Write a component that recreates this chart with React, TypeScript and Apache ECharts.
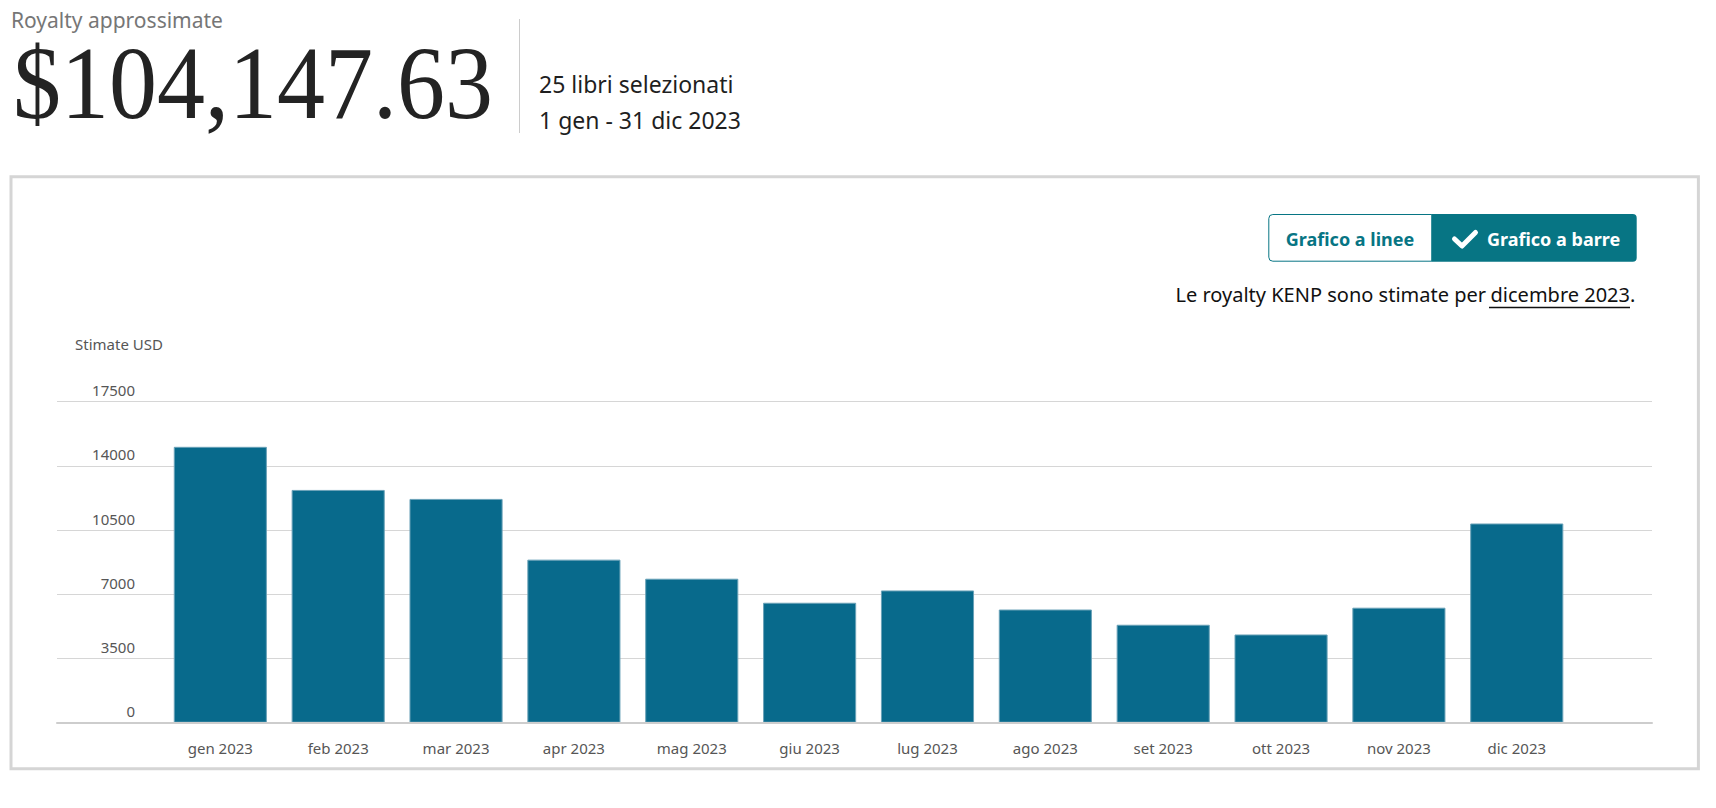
import React, { useEffect, useRef } from 'react';
import * as echarts from 'echarts';

// ---- data ----
const months = [
  'gen 2023', 'feb 2023', 'mar 2023', 'apr 2023', 'mag 2023', 'giu 2023',
  'lug 2023', 'ago 2023', 'set 2023', 'ott 2023', 'nov 2023', 'dic 2023',
];
const royaltiesUSD = [15040, 12690, 12200, 8890, 7850, 6540, 7210, 6170, 5340, 4810, 6270, 10860];
const Y_MIN = 0;
const Y_MAX = 17500;
const Y_STEP = 3500;

const headerLabel = 'Royalty approssimate';
const totalLabel = '$104,147.63';
const booksLabel = '25 libri selezionati';
const periodLabel = '1 gen - 31 dic 2023';
const btnLine = 'Grafico a linee';
const btnBar = 'Grafico a barre';
const notePrefix = 'Le royalty KENP sono stimate per';
const noteLink = 'dicembre 2023';
const axisTitle = 'Stimate USD';

const SANS = '"Noto Sans", "DejaVu Sans", sans-serif';
const TEAL = '#077584';
const BAR = '#086a8c';
const LABEL = '#565656';

export default function App() {
  const ref = useRef<HTMLDivElement>(null);

  useEffect(() => {
    if (!ref.current) return;
    const chart = echarts.init(ref.current, null, { renderer: 'svg' });
    const gridTop = 401.7;
    const gridBottom = 808 - 722.7;

    chart.setOption({
      animation: false,
      backgroundColor: '#ffffff',
      grid: [
        { left: 57, right: 64, top: gridTop, bottom: gridBottom },
        { left: 161.4, right: 140.3, top: gridTop, bottom: gridBottom },
      ],
      xAxis: [
        {
          gridIndex: 0,
          type: 'value',
          min: 0,
          max: 1,
          axisLine: { show: true, onZero: false, lineStyle: { color: '#cdcdcd', width: 2 } },
          axisTick: { show: false },
          axisLabel: { show: false },
          splitLine: { show: false },
          z: 5,
        },
        {
          gridIndex: 1,
          type: 'category',
          data: months,
          axisLine: { show: false },
          axisTick: { show: false },
          axisLabel: { fontFamily: SANS, fontSize: 15, color: LABEL, margin: 18 },
        },
      ],
      yAxis: [
        {
          gridIndex: 0,
          type: 'value',
          min: Y_MIN,
          max: Y_MAX,
          interval: Y_STEP,
          axisLine: { show: false },
          axisTick: { show: false },
          splitLine: { show: true, lineStyle: { color: '#d6d6d6', width: 1 } },
          axisLabel: {
            margin: -78,
            align: 'right',
            verticalAlign: 'bottom',
            lineHeight: 15,
            padding: [0, 0, 4, 0],
            fontFamily: SANS,
            fontSize: 15,
            color: LABEL,
            formatter: (v: number) => String(v),
          },
        },
        {
          gridIndex: 1,
          type: 'value',
          min: Y_MIN,
          max: Y_MAX,
          interval: Y_STEP,
          show: false,
          splitLine: { show: false },
        },
      ],
      series: [
        {
          type: 'bar',
          xAxisIndex: 1,
          yAxisIndex: 1,
          data: royaltiesUSD,
          barCategoryGap: '21%',
          itemStyle: { color: BAR, borderColor: '#6aa2b8', borderWidth: 1 },
        },
      ],
      graphic: [
        {
          type: 'rect',
          shape: { x: 11, y: 176.8, width: 1687.4, height: 592 },
          style: { fill: 'none', stroke: '#d5d5d5', lineWidth: 3 },
        },
        {
          type: 'text', x: 11, y: 19.6,
          style: { text: headerLabel, fontFamily: SANS, fontSize: 21, fill: '#767676', verticalAlign: 'middle' },
        },
        {
          type: 'text', x: 13, y: 83, scaleX: 0.923,
          style: { text: totalLabel, fontFamily: '"Liberation Serif", serif', fontSize: 104, fill: '#232323', verticalAlign: 'middle' },
        },
        {
          type: 'line',
          shape: { x1: 519.5, y1: 19, x2: 519.5, y2: 133 },
          style: { stroke: '#cccccc', lineWidth: 1 },
        },
        {
          type: 'text', x: 539, y: 83.6,
          style: { text: booksLabel, fontFamily: SANS, fontSize: 23, fill: '#1f1f1f', verticalAlign: 'middle' },
        },
        {
          type: 'text', x: 539, y: 120.2,
          style: { text: periodLabel, fontFamily: SANS, fontSize: 23, fill: '#1f1f1f', verticalAlign: 'middle' },
        },
        // toggle buttons
        {
          type: 'rect',
          shape: { x: 1268.8, y: 214.5, width: 163, height: 46.7, r: [4, 0, 0, 4] },
          style: { fill: '#ffffff', stroke: TEAL, lineWidth: 1 },
        },
        {
          type: 'rect',
          shape: { x: 1431.7, y: 214, width: 205, height: 47.7, r: [0, 4, 4, 0] },
          style: { fill: TEAL },
        },
        {
          type: 'text', x: 1350, y: 238.7,
          style: { text: btnLine, fontFamily: SANS, fontWeight: 'bold', fontSize: 18, fill: TEAL, align: 'center', verticalAlign: 'middle' },
        },
        {
          type: 'polyline',
          shape: { points: [[1454.5, 239], [1462, 246], [1475.5, 232.5]] },
          style: { stroke: '#ffffff', lineWidth: 5, lineCap: 'round', lineJoin: 'round', fill: null },
        },
        {
          type: 'text', x: 1487, y: 238.7,
          style: { text: btnBar, fontFamily: SANS, fontWeight: 'bold', fontSize: 18, fill: '#ffffff', verticalAlign: 'middle' },
        },
        // note
        {
          type: 'text', x: 1486, y: 294.7,
          style: { text: notePrefix, fontFamily: SANS, fontSize: 20, fill: '#111111', align: 'right', verticalAlign: 'middle' },
        },
        {
          type: 'text', x: 1630, y: 294.7,
          style: { text: noteLink, fontFamily: SANS, fontSize: 20, fill: '#111111', align: 'right', verticalAlign: 'middle' },
        },
        {
          type: 'text', x: 1630, y: 294.7,
          style: { text: '.', fontFamily: SANS, fontSize: 20, fill: '#111111', align: 'left', verticalAlign: 'middle' },
        },
        {
          type: 'line',
          shape: { x1: 1489, y1: 307.5, x2: 1630, y2: 307.5 },
          style: { stroke: '#111111', lineWidth: 1.3 },
        },
        {
          type: 'text', x: 75, y: 344,
          style: { text: axisTitle, fontFamily: SANS, fontSize: 15, fill: LABEL, verticalAlign: 'middle' },
        },
      ],
    });

    return () => chart.dispose();
  }, []);

  return (
    <div
      ref={ref}
      style={{ position: 'absolute', left: 0, top: 0, width: 1716, height: 808 }}
    />
  );
}
